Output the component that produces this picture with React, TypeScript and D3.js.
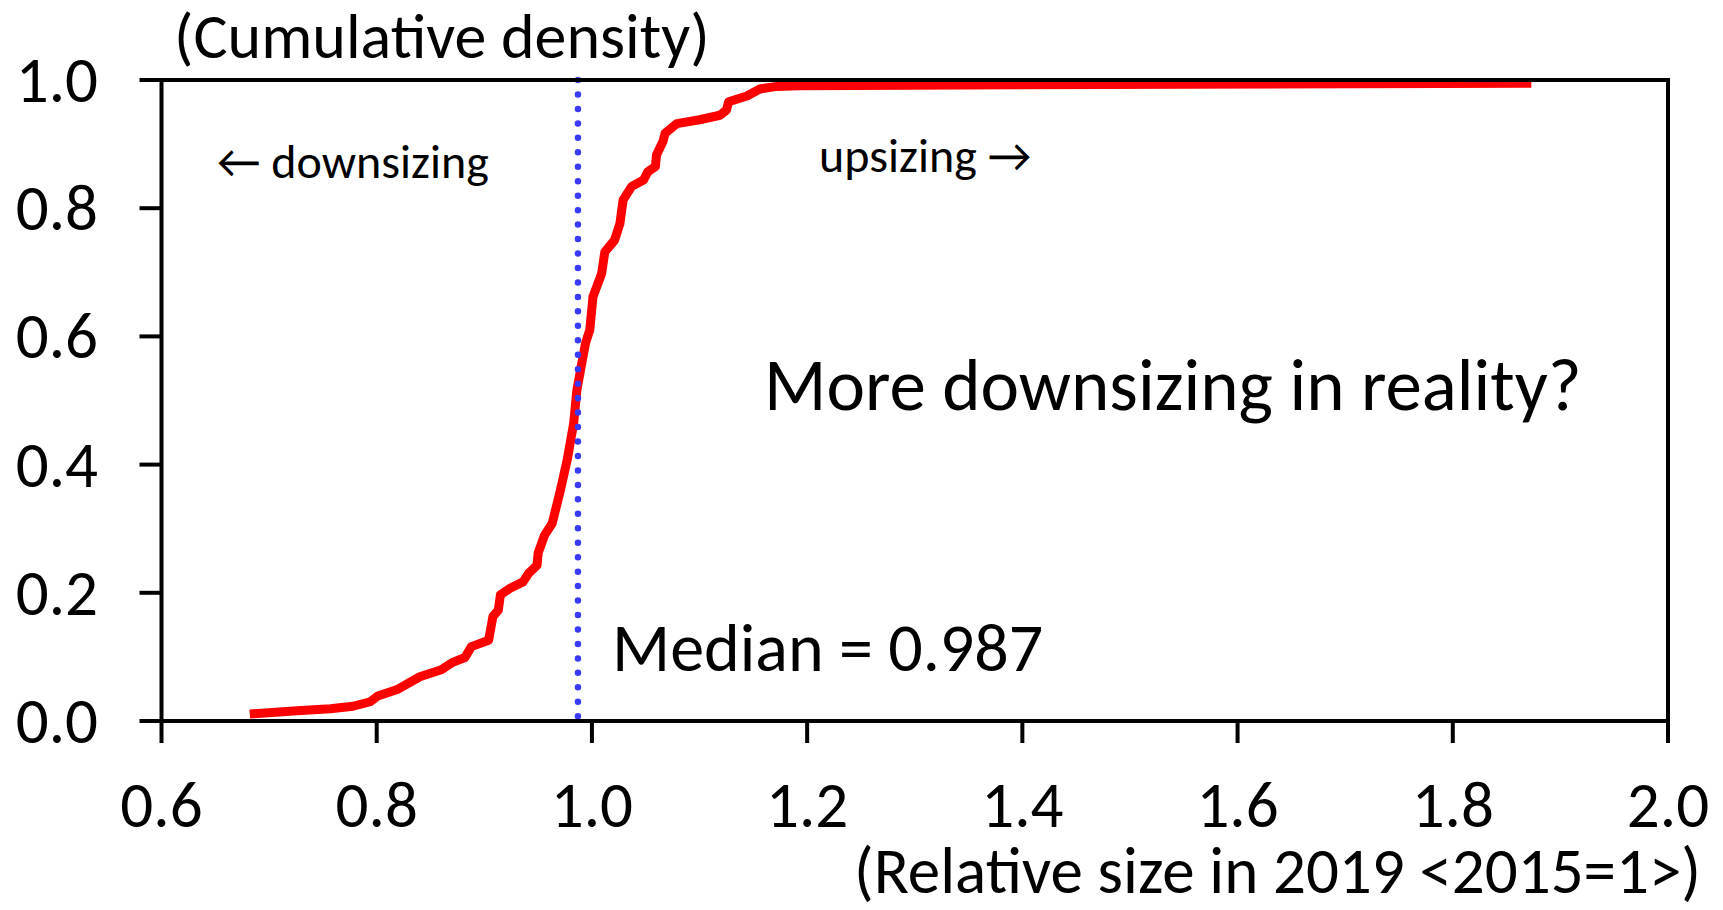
import React from 'react';
import * as d3 from 'd3';

const relSize = [0.682, 0.726, 0.757, 0.778, 0.794, 0.801, 0.819, 0.840, 0.860, 0.870, 0.882, 0.888, 0.904, 0.908, 0.913, 0.915, 0.924, 0.936, 0.941, 0.949, 0.950, 0.956, 0.963, 0.970, 0.977, 0.983, 0.986, 0.990, 0.994, 0.998, 1.001, 1.009, 1.012, 1.021, 1.026, 1.029, 1.037, 1.048, 1.052, 1.059, 1.060, 1.066, 1.068, 1.079, 1.100, 1.119, 1.125, 1.127, 1.144, 1.156, 1.172, 1.193, 1.292, 1.873];
const cumDensity = [0.011, 0.016, 0.019, 0.023, 0.030, 0.039, 0.049, 0.069, 0.080, 0.091, 0.099, 0.116, 0.126, 0.163, 0.173, 0.197, 0.207, 0.217, 0.230, 0.243, 0.262, 0.290, 0.308, 0.355, 0.407, 0.464, 0.516, 0.553, 0.589, 0.610, 0.662, 0.698, 0.732, 0.750, 0.776, 0.813, 0.834, 0.844, 0.857, 0.865, 0.883, 0.904, 0.917, 0.932, 0.938, 0.945, 0.953, 0.966, 0.975, 0.986, 0.990, 0.991, 0.992, 0.995];
const xTicks = [0.6, 0.8, 1.0, 1.2, 1.4, 1.6, 1.8, 2.0];
const yTicks = [0, 0.2, 0.4, 0.6, 0.8, 1.0];
const median = 0.987;

const FONT = 'Carlito, Calibri, Lato, sans-serif';

export default function App() {
  const W = 1723, H = 910;
  const x = d3.scaleLinear().domain([0.6, 2.0]).range([161.5, 1668]);
  const y = d3.scaleLinear().domain([0, 1]).range([721, 80]);
  const pts: [number, number][] = relSize.map((v, i) => [v, cumDensity[i]]);
  const line = d3.line<[number, number]>().x(d => x(d[0])).y(d => y(d[1])).curve(d3.curveLinear);
  const tickLen = 22;
  const tickFont = 65;
  return (
    <svg width={W} height={H} style={{ position: 'absolute', left: 0, top: 0, display: 'block', background: '#fff' }} fontFamily={FONT}>
      <rect x={0} y={0} width={W} height={H} fill="#fff" />
      <path d={line(pts) || ''} fill="none" stroke="#FF0000" strokeWidth={9} strokeLinejoin="round" strokeLinecap="butt" />
      <line x1={x(median)} x2={x(median)} y1={y(1)} y2={y(0)} stroke="#3A3AFA" strokeWidth={6.5} strokeLinecap="round" strokeDasharray="0.01 14.45" />
      <rect x={x(0.6)} y={y(1)} width={x(2.0) - x(0.6)} height={y(0) - y(1)} fill="none" stroke="#000" strokeWidth={4} />
      {yTicks.map(t => (
        <g key={'y' + t}>
          <line x1={x(0.6) - tickLen} x2={x(0.6)} y1={y(t)} y2={y(t)} stroke="#000" strokeWidth={4} />
          <text x={98} y={y(t) + 22} textAnchor="end" fontSize={tickFont} fill="#000">{t.toFixed(1)}</text>
        </g>
      ))}
      {xTicks.map(t => (
        <g key={'x' + t}>
          <line x1={x(t)} x2={x(t)} y1={y(0)} y2={y(0) + tickLen} stroke="#000" strokeWidth={4} />
          <text x={x(t)} y={827} textAnchor="middle" fontSize={tickFont} fill="#000">{t.toFixed(1)}</text>
        </g>
      ))}
      <text x={174} y={58} fontSize={64} fill="#000">(Cumulative density)</text>
      <text x={1701} y={893} textAnchor="end" fontSize={65} fill="#000">(Relative size in 2019 &lt;2015=1&gt;)</text>
      <text x={217} y={178} fontSize={48} fill="#000">← downsizing</text>
      <text x={819} y={172} fontSize={48} fill="#000">upsizing →</text>
      <text x={764} y={410} fontSize={73} fill="#000">More downsizing in reality?</text>
      <text x={612} y={671} fontSize={68} fill="#000">Median = 0.987</text>
    </svg>
  );
}
